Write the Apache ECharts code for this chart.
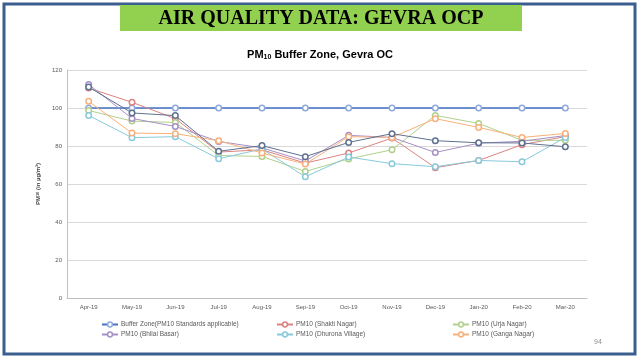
<!DOCTYPE html>
<html><head><meta charset="utf-8">
<script src="https://cdn.jsdelivr.net/npm/echarts@6/dist/echarts.min.js"></script>
<style>html,body{margin:0;padding:0;background:#fff}#c{width:640px;height:360px}</style>
</head><body><div id="c"></div>
<script>
const categories = ['Apr-19','May-19','Jun-19','Jul-19','Aug-19','Sep-19','Oct-19','Nov-19','Dec-19','Jan-20','Feb-20','Mar-20'];
const yTicks = [0,20,40,60,80,100,120];
const bufferZone = [100,100,100,100,100,100,100,100,100,100,100,100];
const shaktiNagar = [110.5,103,94.4,76.8,78,71,76.3,84.2,68.6,72.4,80.7,85];
const urjaNagar = [98.7,93.1,92.4,75,74.5,66.6,73.2,78,96.1,91.9,83,83];
const bhilaiBasar = [112.4,94.5,90.3,82.4,79,72.1,85.6,84.5,76.6,81.5,82.5,85.5];
const dhuronaVillage = [96.1,84.4,84.9,73.3,78.4,63.8,74.2,70.7,69.1,72.4,71.7,84.5];
const gangaNagar = [103.5,86.8,86.5,82.8,76.3,70.5,84.9,84.5,94.4,89.8,84.5,86.6];
const otherSite = [111,97.4,96,77.2,80.2,74.4,81.9,86.5,82.8,81.7,81.6,79.6];

const names = ['Buffer Zone(PM10 Standards applicable)','PM10 (Shakti Nagar)','PM10 (Urja Nagar)','PM10 (Bhilai Basar)','PM10 (Dhurona Village)','PM10 (Ganga Nagar)','PM10 (Site 7)'];
const datas = [bufferZone, shaktiNagar, urjaNagar, bhilaiBasar, dhuronaVillage, gangaNagar, otherSite];
const lineColors = ['#4472C4','#DA8380','#B0D08C','#A58FC6','#88C9DB','#F9B07A','#5E7190'];
const markColors = ['#8EA9DB','#DA8380','#B0D08C','#A58FC6','#88C9DB','#F9B07A','#5E7190'];

const chart = echarts.init(document.getElementById('c'));
const series = names.map((n,i)=>({
  name:n, type:'line', data:datas[i], symbol:'circle', symbolSize:5.5,
  lineStyle:{color:lineColors[i], width: i===0?1.5:1},
  itemStyle:{color:'#fff', borderColor:markColors[i], borderWidth:1.5},
  z: i===6?5:3
}));
const legendPos = [[96,316],[271,316],[447,316],[96,326],[271,326],[447,326]];
const legends = legendPos.map((p,i)=>({
  data:[{name:names[i], itemStyle:{color:'#fff', borderColor:markColors[i], borderWidth:1.5}}],
  left:p[0], top:p[1], itemWidth:16, itemHeight:6, itemGap:4,
  textStyle:{fontSize:6.5, color:'#595959', fontFamily:'Liberation Sans', padding:[0,0,0,-2]}
}));
chart.setOption({
  animation:false,
  title:{
    text:'{a|PM}{b|10}{a| Buffer Zone, Gevra OC}', left:'center', top:44,
    textStyle:{rich:{
      a:{fontSize:11, fontWeight:'bold', color:'#000', fontFamily:'Liberation Sans'},
      b:{fontSize:7, fontWeight:'bold', color:'#000', fontFamily:'Liberation Sans', padding:[5,0,0,0]}
    }}
  },
  legend: legends,
  grid:{left:67, right:53, top:70, bottom:62, containLabel:false},
  xAxis:{type:'category', data:categories, boundaryGap:true,
    axisLine:{lineStyle:{color:'#BFBFBF'}}, axisTick:{show:false},
    axisLabel:{fontSize:6, color:'#595959', margin:6, fontFamily:'Liberation Sans'}},
  yAxis:{type:'value', min:0, max:120, interval:20,
    name:'{a|PM}{b|10}{a| (in µg/m³)}', nameLocation:'middle', nameGap:15, nameRotate:90,
    nameTextStyle:{rich:{a:{fontSize:6, fontWeight:'bold', color:'#404040'}, b:{fontSize:4, fontWeight:'bold', color:'#404040'}}},
    axisLine:{show:true, lineStyle:{color:'#BFBFBF'}}, axisTick:{show:false},
    splitLine:{lineStyle:{color:'#D9D9D9'}},
    axisLabel:{fontSize:6, color:'#595959', margin:5, fontFamily:'Liberation Sans',
      formatter:v=> yTicks.includes(v)? String(v):''}},
  graphic:[
    {type:'rect', shape:{x:4, y:4, width:631, height:350}, style:{fill:'none', stroke:'#3A5F8F', lineWidth:3}, z:10},
    {type:'rect', shape:{x:120, y:5, width:402, height:26}, style:{fill:'#92D050'}, z:10},
    {type:'text', x:321, y:19, style:{text:'AIR QUALITY DATA: GEVRA OCP', font:'bold 20px "Liberation Serif"', fill:'#000', textAlign:'center', textVerticalAlign:'middle'}, z:11},
    {type:'text', x:598, y:342, style:{text:'94', font:'7px "Liberation Sans"', fill:'#8C8C8C', textAlign:'center', textVerticalAlign:'middle'}, z:11}
  ],
  series: series
});
</script></body></html>
